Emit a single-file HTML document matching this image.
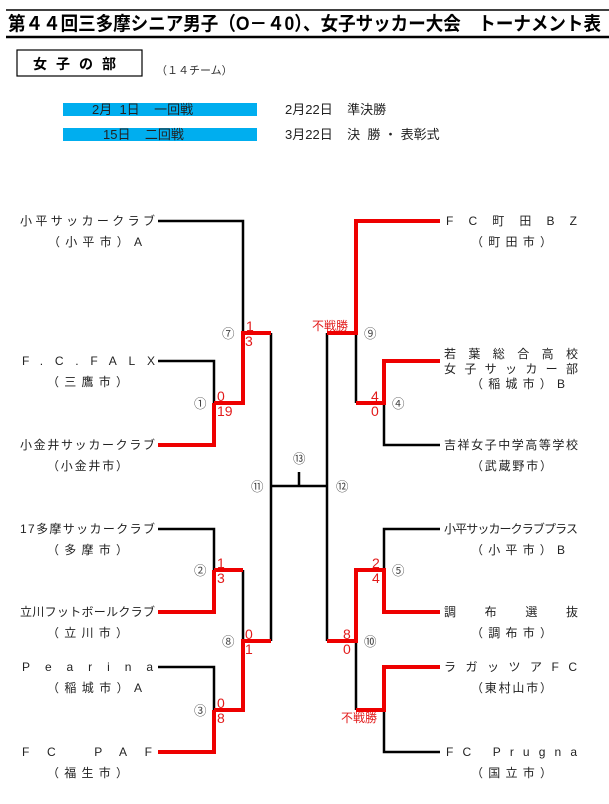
<!DOCTYPE html>
<html><head><meta charset="utf-8"><style>
html,body{margin:0;padding:0;background:#fff;}
svg{display:block;font-family:"Liberation Sans","Noto Sans CJK JP",sans-serif;}
.t{font-size:12px;fill:#222;}
.r{font-size:14px;fill:#e21a1a;}
.c{font-size:12.5px;fill:#444;}
</style></head><body>
<svg width="609" height="804" viewBox="0 0 609 804" xmlns="http://www.w3.org/2000/svg">
<line x1="6" y1="10" x2="609" y2="10" stroke="#000" stroke-width="1.5"/>
<line x1="6" y1="37" x2="609" y2="37" stroke="#000" stroke-width="2.5"/>
<text x="8" y="30" font-size="19" font-weight="bold" textLength="593" lengthAdjust="spacingAndGlyphs">第４４回三多摩シニア男子（O－４0）、女子サッカー大会　トーナメント表</text>
<rect x="17" y="50" width="125" height="26" fill="none" stroke="#000" stroke-width="1.2"/>
<text x="33" y="69" font-size="14" font-weight="bold" letter-spacing="9">女子の部</text>
<text x="156" y="74" font-size="11" fill="#333">（１４チーム）</text>
<rect x="63" y="103" width="194" height="13" fill="#00aeef"/>
<rect x="63" y="128" width="194" height="13" fill="#00aeef"/>
<text x="92" y="114" font-size="13" fill="#222" xml:space="preserve">2月  1日    一回戦</text>
<text x="103" y="139" font-size="13" fill="#222" xml:space="preserve">15日    二回戦</text>
<text x="285" y="114" font-size="13" fill="#222" xml:space="preserve">2月22日    準決勝</text>
<text x="285" y="139" font-size="13" fill="#222" xml:space="preserve">3月22日    決  勝 ・ 表彰式</text>

<g fill="none" stroke="#000" stroke-width="2.5">
<polyline points="158,221 243,221 243,333"/>
<polyline points="158,361 214,361 214,403"/>
<polyline points="271,333 271,641"/>
<line x1="271" y1="486" x2="327" y2="486"/>
<line x1="299" y1="472" x2="299" y2="486"/>
<polyline points="158,529 214,529 214,570"/>
<line x1="243" y1="570" x2="243" y2="641"/>
<polyline points="158,667 214,667 214,710"/>
<line x1="327" y1="333" x2="327" y2="641"/>
<line x1="356" y1="333" x2="356" y2="403"/>
<polyline points="384,403 384,445 440,445"/>
<polyline points="440,529 384,529 384,570"/>
<line x1="356" y1="641" x2="356" y2="710"/>
<polyline points="384,710 384,752 440,752"/>
</g>
<g fill="none" stroke="#e00" stroke-width="4">
<polyline points="271,333 243,333 243,403 214,403"/>
<polyline points="158,445 214,445 214,403"/>
<polyline points="214,570 243,570"/>
<polyline points="158,612 214,612 214,570"/>
<polyline points="271,641 243,641 243,710 214,710"/>
<polyline points="158,752 214,752 214,710"/>
<polyline points="440,221 356,221 356,333 327,333"/>
<polyline points="356,403 384,403 384,361 440,361"/>
<polyline points="327,641 356,641 356,570 384,570 384,612 440,612"/>
<polyline points="356,710 384,710 384,667 440,667"/>
</g>

<g class="r">
<text x="246" y="331">1</text><text x="245" y="346">3</text>
<text x="217" y="401">0</text><text x="217" y="416">19</text>
<text x="217" y="568">1</text><text x="217" y="583">3</text>
<text x="245" y="639">0</text><text x="245" y="654">1</text>
<text x="217" y="708">0</text><text x="217" y="723">8</text>
<text x="371" y="401">4</text><text x="371" y="416">0</text>
<text x="372" y="568">2</text><text x="372" y="583">4</text>
<text x="343" y="639">8</text><text x="343" y="654">0</text>
<text x="312" y="330" font-size="12">不戦勝</text>
<text x="341" y="722" font-size="12">不戦勝</text>
</g>
<g class="c">
<text x="222" y="338">⑦</text><text x="194" y="408">①</text>
<text x="194" y="575">②</text><text x="222" y="646">⑧</text>
<text x="194" y="715">③</text>
<text x="251" y="491">⑪</text><text x="293" y="463">⑬</text><text x="336" y="491">⑫</text>
<text x="364" y="338">⑨</text><text x="392" y="408">④</text>
<text x="392" y="575">⑤</text><text x="364" y="646">⑩</text>
</g>

<g class="t" lengthAdjust="spacing">
<text x="20" y="225" textLength="135">小平サッカークラブ</text>
<text x="48" y="246" textLength="94">（小平市）A</text>
<text x="22" y="365" textLength="133">F.C.FALX</text>
<text x="47" y="386" textLength="81">（三鷹市）</text>
<text x="20" y="449" textLength="135">小金井サッカークラブ</text>
<text x="47" y="470" textLength="81">（小金井市）</text>
<text x="20" y="533" textLength="135">17多摩サッカークラブ</text>
<text x="47" y="554" textLength="81">（多摩市）</text>
<text x="20" y="616" textLength="135">立川フットボールクラブ</text>
<text x="47" y="637" textLength="81">（立川市）</text>
<text x="22" y="671" textLength="131">Pearina</text>
<text x="47" y="692" textLength="95">（稲城市）A</text>
<text x="22" y="756" textLength="130" xml:space="preserve">FC PAF</text>
<text x="47" y="777" textLength="81">（福生市）</text>

<text x="446" y="225" textLength="131">FC町田BZ</text>
<text x="471" y="246" textLength="81">（町田市）</text>
<text x="444" y="358" textLength="134">若葉総合高校</text>
<text x="444" y="373" textLength="134">女子サッカー部</text>
<text x="471" y="388" textLength="94">（稲城市）B</text>
<text x="444" y="449" textLength="134">吉祥女子中学高等学校</text>
<text x="471" y="470" textLength="81">（武蔵野市）</text>
<text x="444" y="533" textLength="134">小平サッカークラブプラス</text>
<text x="471" y="554" textLength="94">（小平市）B</text>
<text x="444" y="616" textLength="134">調布選抜</text>
<text x="471" y="637" textLength="81">（調布市）</text>
<text x="444" y="671" textLength="133">ラガッツアFC</text>
<text x="471" y="692" textLength="81">（東村山市）</text>
<text x="446" y="756" textLength="131" xml:space="preserve">FC Prugna</text>
<text x="471" y="777" textLength="81">（国立市）</text>
</g>
</svg>
</body></html>
